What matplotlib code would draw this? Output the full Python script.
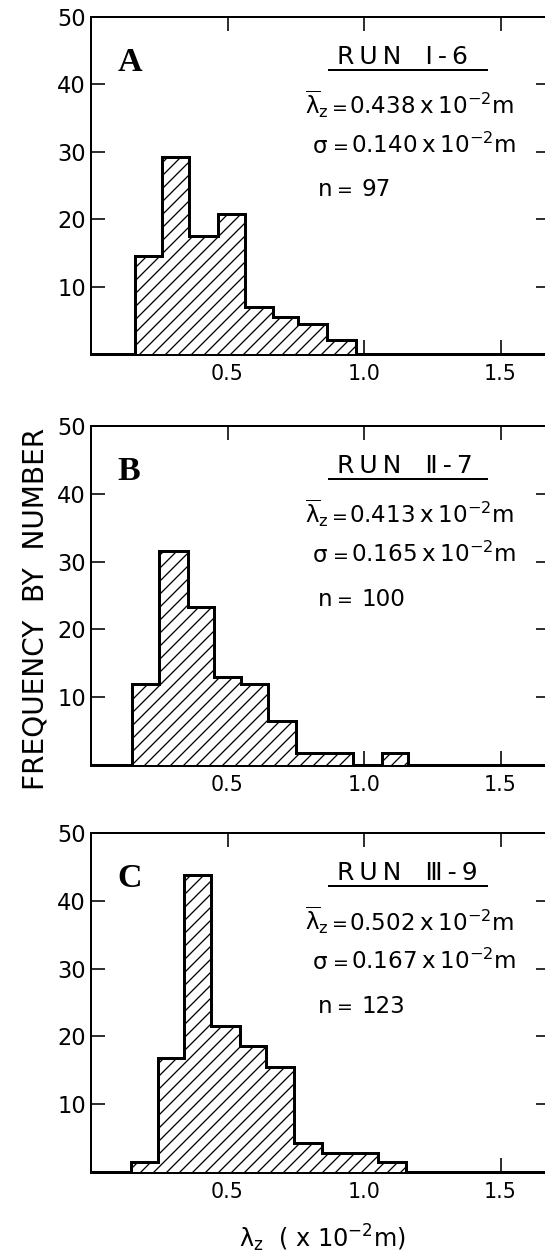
import numpy as np
import matplotlib
matplotlib.use("Agg")
import matplotlib.pyplot as plt

# ---------------- data ----------------
panel_letters = ["A", "B", "C"]
run_names = ["R\u2009U\u2009N   \u2160\u2009-\u20096",
             "R\u2009U\u2009N   \u2161\u2009-\u20097",
             "R\u2009U\u2009N   \u2162\u2009-\u20099"]
mean_values = ["0.438", "0.413", "0.502"]
sigma_values = ["0.140", "0.165", "0.167"]
n_values = ["97", "100", "123"]

edges_a = [0.16, 0.26, 0.36, 0.465, 0.565, 0.665, 0.76, 0.865, 0.97]
counts_a = [14.6, 29.2, 17.5, 20.8, 7.0, 5.5, 4.5, 2.1]

edges_b = [0.15, 0.25, 0.355, 0.45, 0.55, 0.65, 0.75, 0.855, 0.96, 1.065, 1.16]
counts_b = [11.9, 31.6, 23.3, 13.0, 11.9, 6.5, 1.8, 1.8, 0.0, 1.8]

edges_c = [0.145, 0.245, 0.34, 0.44, 0.545, 0.64, 0.745, 0.845, 0.95, 1.05, 1.155]
counts_c = [1.5, 16.8, 43.8, 21.6, 18.6, 15.4, 4.3, 2.7, 2.7, 1.5]

x_ticks = [0.5, 1.0, 1.5]
x_tick_labels = ["0.5", "1.0", "1.5"]
y_ticks = [10, 20, 30, 40, 50]
y_tick_labels = ["10", "20", "30", "40", "50"]

all_edges = [edges_a, edges_b, edges_c]
all_counts = [counts_a, counts_b, counts_c]

# ---------------- style ----------------
W, H = 545, 1257
DPI = 78


def pt(px):
    return px * 72.0 / DPI


plt.rcParams["font.family"] = ["DejaVu Sans"]
plt.rcParams["mathtext.fontset"] = "dejavusans"
plt.rcParams["hatch.linewidth"] = pt(1.3)

fig = plt.figure(figsize=(W / DPI, H / DPI), dpi=DPI)
fig.patch.set_facecolor("white")

# axes boxes in pixels: (top, bottom)
boxes = [(17.0, 354.3), (426.0, 765.0), (833.3, 1171.7)]
left_px = 91.0
xmax = 1.68
px_per_unit = 273.0
width_px = xmax * px_per_unit

TXT = pt(23)
EQ = pt(19)

for i, (top, bot) in enumerate(boxes):
    ax = fig.add_axes([left_px / W, (H - bot) / H, width_px / W, (bot - top) / H])
    ax.set_xlim(0, xmax)
    ax.set_ylim(0, 50)
    ax.stairs(all_counts[i], all_edges[i], baseline=0, fill=True,
              facecolor="white", edgecolor="black", hatch="//",
              linewidth=pt(3.0), zorder=3)

    for side in ["left", "top", "right"]:
        ax.spines[side].set_linewidth(pt(2.0))
    ax.spines["bottom"].set_linewidth(pt(3.0))

    ax.set_xticks(x_ticks)
    ax.set_xticklabels(x_tick_labels)
    ax.set_yticks(y_ticks)
    ax.set_yticklabels(y_tick_labels)
    ax.tick_params(axis="both", direction="in", length=pt(14), width=pt(1.6),
                   top=True, right=True, colors="black")
    ax.tick_params(axis="x", labelsize=pt(20.5), pad=pt(10))
    ax.tick_params(axis="y", labelsize=pt(22.5), pad=pt(5))

    tr = ax.transData
    ax.text(0.098, 42.0, panel_letters[i], transform=tr, ha="left", va="baseline",
            fontsize=pt(34), fontweight="bold", family=["Liberation Serif", "DejaVu Serif"])
    ax.text(0.900, 43.1, run_names[i], transform=tr, ha="left", va="baseline",
            fontsize=pt(25))
    ax.plot([0.868, 1.454], [42.15, 42.15], color="black", lw=pt(2.0),
            solid_capstyle="butt", zorder=3)

    ax.text(0.785, 35.65, r"$\overline{\mathrm{\lambda}}_{\mathrm{z}}$", transform=tr,
            ha="left", va="baseline", fontsize=TXT)
    ax.text(0.912, 35.65, "=", transform=tr, ha="center", va="baseline", fontsize=EQ)
    ax.text(0.945, 35.65, mean_values[i] + "\u2009x\u200910$^{-2}$m", transform=tr,
            ha="left", va="baseline", fontsize=TXT)

    ax.text(0.812, 29.9, "\u03c3", transform=tr, ha="left", va="baseline", fontsize=TXT)
    ax.text(0.915, 29.9, "=", transform=tr, ha="center", va="baseline", fontsize=EQ)
    ax.text(0.952, 29.9, sigma_values[i] + "\u2009x\u200910$^{-2}$m", transform=tr,
            ha="left", va="baseline", fontsize=TXT)

    ax.text(0.830, 23.5, "n", transform=tr, ha="left", va="baseline", fontsize=TXT)
    ax.text(0.93, 23.5, "=", transform=tr, ha="center", va="baseline", fontsize=EQ)
    ax.text(0.99, 23.5, n_values[i], transform=tr, ha="left", va="baseline",
            fontsize=TXT)

fig.text(35.5 / W, (H - 609) / H, "FREQUENCY  BY  NUMBER", rotation=90,
         ha="center", va="center", fontsize=pt(28))
fig.text(322 / W, (H - 1247) / H, r"$\mathrm{\lambda}_{\mathrm{z}}$  ( x 10$^{-2}$m)",
         ha="center", va="baseline", fontsize=pt(24))

fig.savefig("out.png", dpi=DPI, facecolor="white")
